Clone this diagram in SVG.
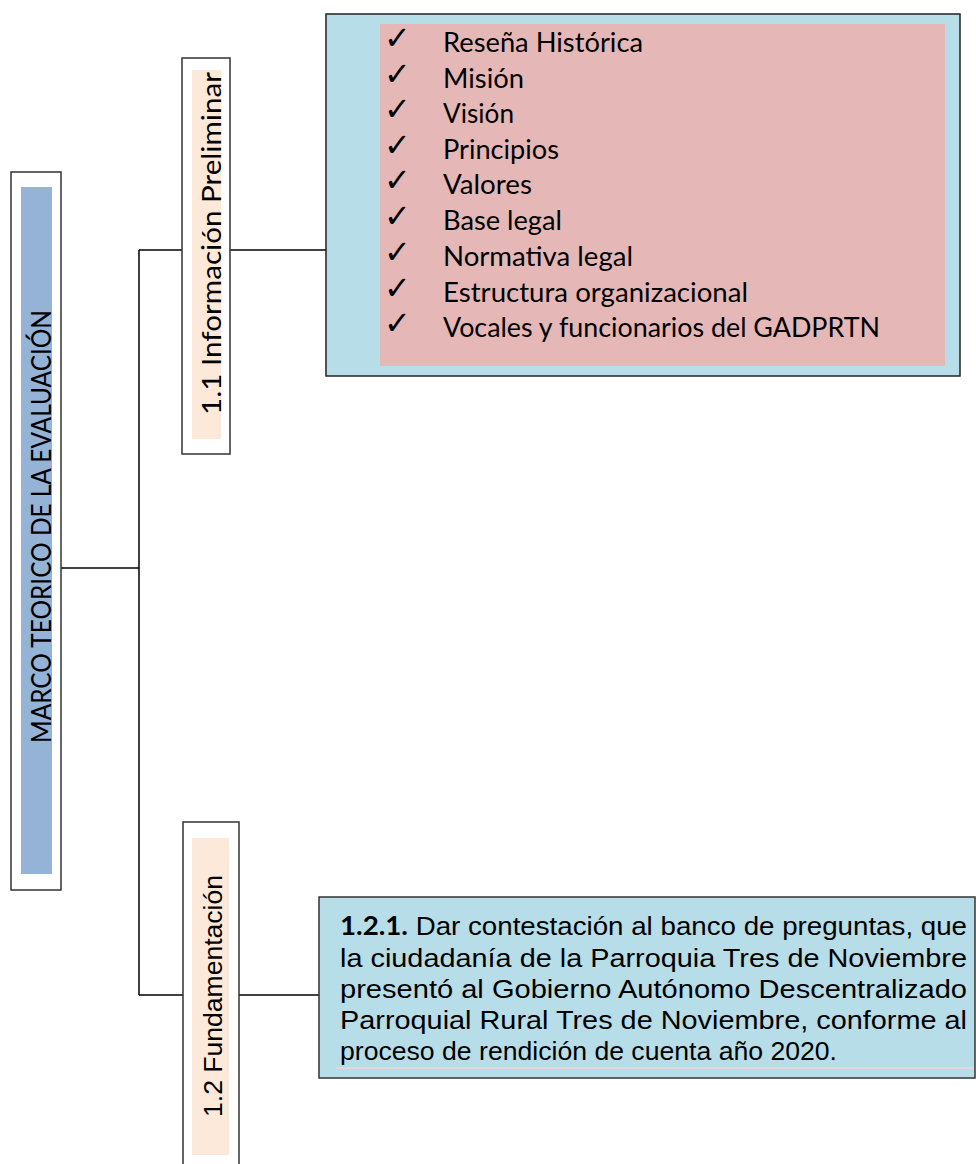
<svg xmlns="http://www.w3.org/2000/svg" width="976" height="1164" viewBox="0 0 976 1164">
<style>
.frame{fill:#ffffff;stroke:#333333;stroke-width:1.5}
.conn{stroke:#000000;stroke-width:1.5;fill:none}
.cal{font-family:Lato,"Open Sans","Noto Sans",sans-serif;fill:#000}
.ari{font-family:"Liberation Sans",Arial,sans-serif;fill:#000}
.chk{font-family:"DejaVu Sans",sans-serif;font-size:32px;font-weight:bold;fill:#000}
.li{font-family:Lato,"Open Sans","Noto Sans",sans-serif;font-size:27px;fill:#000}
.body{font-family:"Liberation Sans Narrow","Liberation Sans",Arial,sans-serif;font-size:26px;fill:#000}
</style>
<rect width="976" height="1164" fill="#ffffff"/>
<g id="connectors">
<path class="conn" d="M61,568 H139"/>
<path class="conn" d="M139,250 V995"/>
<path class="conn" d="M139,250 H182"/>
<path class="conn" d="M230,250 H326"/>
<path class="conn" d="M139,995 H183"/>
<path class="conn" d="M239,995 H319"/>
</g>
<g id="node-marco">
<rect class="frame" x="11" y="172" width="50" height="718"/>
<rect x="21" y="187" width="31" height="687" fill="#95b3d7"/>
<text class="cal" font-size="27" transform="translate(51,743) rotate(-90)" textLength="433" lengthAdjust="spacingAndGlyphs">MARCO TEORICO DE LA EVALUACIÓN</text>
</g>
<g id="node-11">
<rect class="frame" x="182" y="58" width="48" height="396"/>
<rect x="192" y="70" width="29" height="369" fill="#fde9d9"/>
<text class="cal" font-size="27.5" transform="translate(221,415) rotate(-90)" textLength="343" lengthAdjust="spacingAndGlyphs">1.1 Información Preliminar</text>
</g>
<g id="node-12">
<rect class="frame" x="183" y="822" width="56" height="350"/>
<rect x="192" y="838" width="37" height="317" fill="#fde9d9"/>
<text class="ari" font-size="26" transform="translate(222,1117) rotate(-90)" textLength="242" lengthAdjust="spacingAndGlyphs">1.2 Fundamentación</text>
</g>
<g id="node-lista">
<rect x="326" y="14" width="634" height="362" fill="#b7dde8" stroke="#222222" stroke-width="1.5"/>
<rect x="380" y="24" width="565" height="342" fill="#e5b8b7"/>
<g class="chk">
<text x="384" y="49">✓</text>
<text x="384" y="85">✓</text>
<text x="384" y="120">✓</text>
<text x="384" y="156">✓</text>
<text x="384" y="191">✓</text>
<text x="384" y="227">✓</text>
<text x="384" y="263">✓</text>
<text x="384" y="299">✓</text>
<text x="384" y="334">✓</text>
</g>
<text class="li" x="443" y="52" textLength="200" lengthAdjust="spacingAndGlyphs">Reseña Histórica</text>
<text class="li" x="443" y="88" textLength="81" lengthAdjust="spacingAndGlyphs">Misión</text>
<text class="li" x="443" y="123" textLength="71" lengthAdjust="spacingAndGlyphs">Visión</text>
<text class="li" x="443" y="159" textLength="116" lengthAdjust="spacingAndGlyphs">Principios</text>
<text class="li" x="443" y="194" textLength="89" lengthAdjust="spacingAndGlyphs">Valores</text>
<text class="li" x="443" y="230" textLength="119" lengthAdjust="spacingAndGlyphs">Base legal</text>
<text class="li" x="443" y="266" textLength="190" lengthAdjust="spacingAndGlyphs">Normativa legal</text>
<text class="li" x="443" y="302" textLength="305" lengthAdjust="spacingAndGlyphs">Estructura organizacional</text>
<text class="li" x="443" y="337" textLength="437" lengthAdjust="spacingAndGlyphs">Vocales y funcionarios del GADPRTN</text>
</g>
<g id="node-121">
<rect x="319" y="897" width="656" height="181" fill="#b7dde8" stroke="#333333" stroke-width="1.5"/>
<line x1="336" y1="1068" x2="974" y2="1068" stroke="#f2d4d4" stroke-width="1.5"/>
<text class="body" x="340" y="935" textLength="627" lengthAdjust="spacingAndGlyphs"><tspan font-family="Lato,'Open Sans',sans-serif" font-weight="bold">1.2.1.</tspan>   Dar contestación al banco de preguntas, que</text>
<text class="body" x="340" y="967" textLength="627" lengthAdjust="spacingAndGlyphs">la ciudadanía de la Parroquia Tres de Noviembre</text>
<text class="body" x="340" y="998" textLength="627" lengthAdjust="spacingAndGlyphs">presentó al Gobierno Autónomo Descentralizado</text>
<text class="body" x="340" y="1029" textLength="627" lengthAdjust="spacingAndGlyphs">Parroquial Rural Tres de Noviembre, conforme al</text>
<text class="body" x="340" y="1060" textLength="497" lengthAdjust="spacingAndGlyphs">proceso de rendición de cuenta año 2020.</text>
</g>
</svg>
